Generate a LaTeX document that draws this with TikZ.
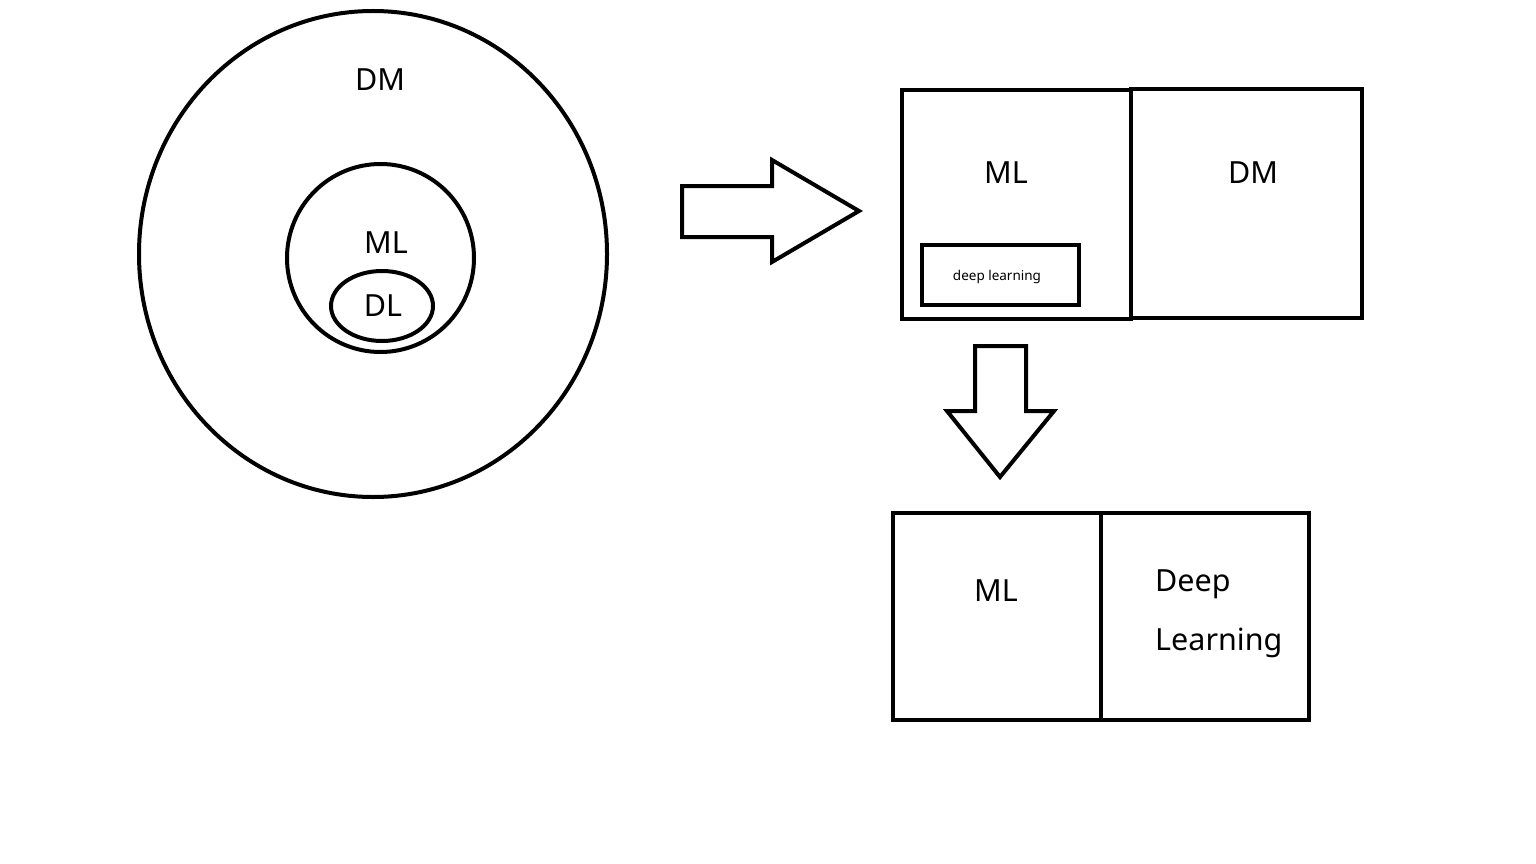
\documentclass[tikz,border=0pt]{standalone}
\usepackage{fontspec}
\setmainfont{Noto Sans}
\begin{document}
\begin{tikzpicture}[x=1pt,y=-1pt,
  shp/.style={draw=black,line width=4pt,line join=miter},
  big/.style={font=\fontsize{30.5}{36}\selectfont,inner sep=0pt},
  small/.style={font=\fontsize{13.5}{15}\selectfont,inner sep=0pt}]
\useasboundingbox[fill=white] (0,0) rectangle (1536,864);
% circles
\draw[shp] (373,254) ellipse [x radius=234, y radius=243];
\draw[shp] (380.5,258) ellipse [x radius=93.5, y radius=94];
\draw[shp] (382,306) ellipse [x radius=51, y radius=35];
\node[big] (dm1) at (380,80) {DM};
\node[big] (ml1) at (386,243) {ML};
\node[big] (dl1) at (383,306) {DL};
% right arrow
\draw[shp] (682,186) -- (772,186) -- (772,160) -- (859,211) -- (772,262) -- (772,237) -- (682,237) -- cycle;
% top boxes
\node[shp,minimum width=229,minimum height=229,inner sep=0pt] (tl) at (1016.5,204.5) {};
\node[shp,minimum width=231,minimum height=229,inner sep=0pt] (tr) at (1246.5,203.5) {};
\node[shp,minimum width=157,minimum height=60,inner sep=0pt] (dlbox) at (1000.5,275) {};
\node[small] at (997,277) {deep learning};
\node[big] (ml2) at (1006,173) {ML};
\node[big] (dm2) at (1253,173) {DM};
% down arrow
\draw[shp] (975,346) -- (1026,346) -- (1026,411) -- (1054,411) -- (1000,477) -- (947,411) -- (975,411) -- cycle;
% bottom boxes
\node[shp,minimum width=208,minimum height=207,inner sep=0pt] (bl) at (997,616.5) {};
\node[shp,minimum width=208,minimum height=207,inner sep=0pt] (br) at (1205,616.5) {};
\node[big] (ml3) at (996,591) {ML};
\node[big,anchor=west] (deep) at (1155,584) {Deep};
\node[big,anchor=west] (learn) at (1155,643) {Learning};
\end{tikzpicture}
\end{document}
